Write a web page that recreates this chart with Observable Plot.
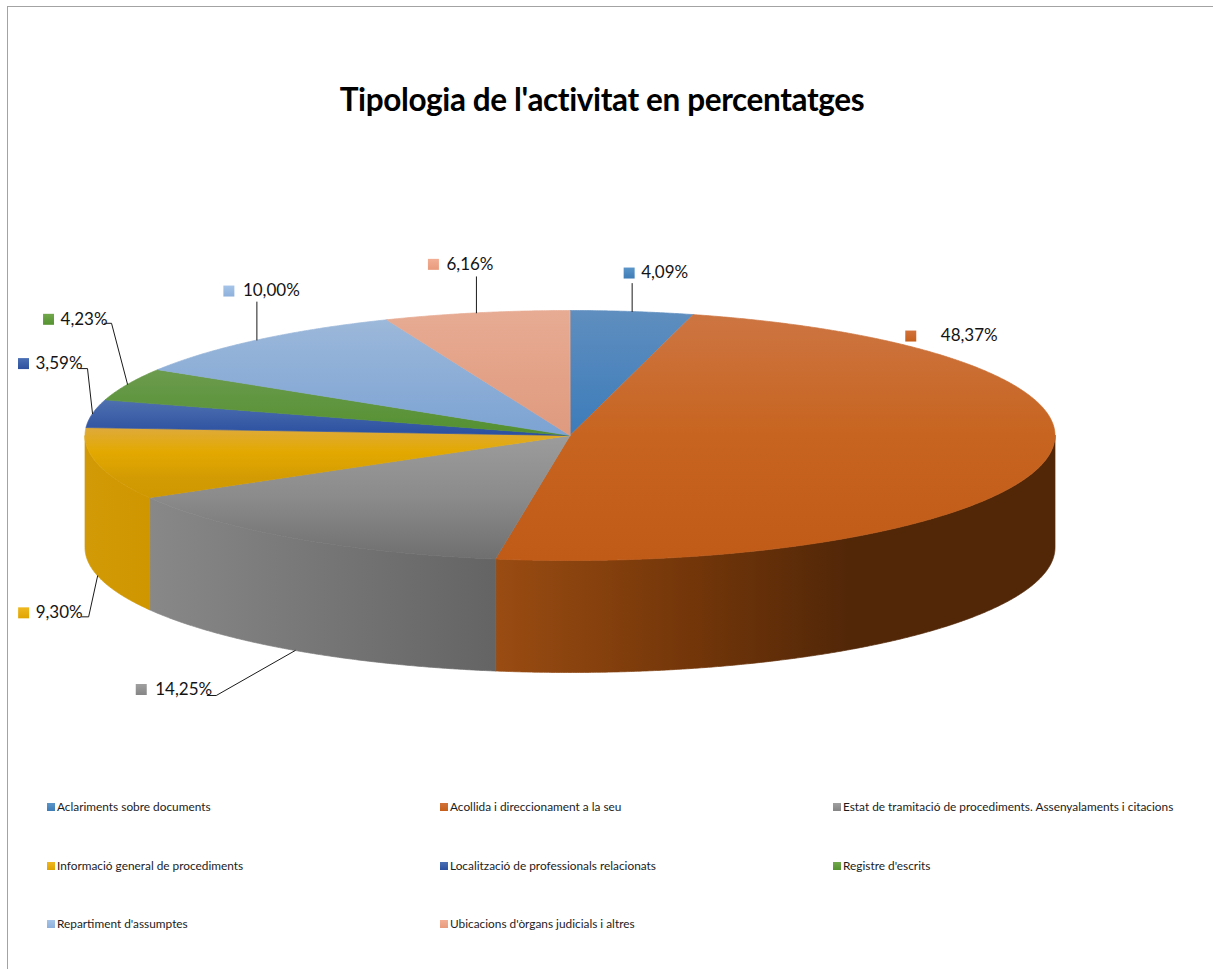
<!DOCTYPE html>
<html lang="ca">
<head>
<meta charset="utf-8">
<title>Tipologia de l'activitat en percentatges</title>
<script src="https://cdn.jsdelivr.net/npm/d3@7"></script>
<script src="https://cdn.jsdelivr.net/npm/@observablehq/plot@0.6"></script>
<style>
  html, body { margin: 0; padding: 0; background: #fff; }
  #frame { position: relative; width: 1213px; height: 969px; overflow: hidden; font-family: Lato, "Open Sans", sans-serif; color: #111; }
  #edge { position: absolute; left: 7px; top: 6px; right: -4px; bottom: -4px; border-left: 1px solid #a3a3a3; border-top: 1px solid #a3a3a3; pointer-events: none; }
  #title { height: 130px; box-sizing: border-box; padding-top: 78px; text-align: center; font-weight: 700; font-size: 31.5px; letter-spacing: -0.37px; line-height: 42px; margin-left: -9px; color: #000; }
  #chart svg { display: block; }
  #legend { position: relative; display: grid; grid-template-columns: 393px 393px 380px; grid-auto-rows: 58.5px; margin: 0 0 0 47px; padding-top: 28px; font-size: 11.85px; line-height: 18px; color: #1c1c1c; }
  .item { display: flex; align-items: center; height: 18px; white-space: nowrap; }
  .sw { width: 8px; height: 8px; margin-right: 2px; flex: none; }
</style>
</head>
<body>
<div id="frame">
  <div id="edge"></div>
  <div id="title">Tipologia de l'activitat en percentatges</div>
  <div id="chart"></div>
  <div id="legend"></div>
</div>
<script>
const categories = [
  "Aclariments sobre documents",
  "Acollida i direccionament a la seu",
  "Estat de tramitació de procediments. Assenyalaments i citacions",
  "Informació general de procediments",
  "Localització de professionals relacionats",
  "Registre d'escrits",
  "Repartiment d'assumptes",
  "Ubicacions d'òrgans judicials i altres"
];
const shares = [4.09, 48.37, 14.25, 9.30, 3.59, 4.23, 10.00, 6.16];

// Top-face gradients, top to bottom of each slice: [offset, colour]
const topShades = [
  [[0, "#5f8ebf"], [1, "#3c7cba"]],
  [[0, "#cd7542"], [0.5, "#c7641f"], [1, "#bf5a17"]],
  [[0, "#9c9c9c"], [0.5, "#8b8b8b"], [1, "#6f6f6f"]],
  [[0, "#deaa3c"], [0.35, "#e3a900"], [0.72, "#d39b03"], [1, "#cf9700"]],
  [[0, "#4f70b0"], [1, "#2a4f9f"]],
  [[0, "#6c9b4e"], [1, "#539030"]],
  [[0, "#9cb8da"], [1, "#7ca3d3"]],
  [[0, "#e7ab93"], [1, "#df9a7e"]]
];
// Small key squares: top to bottom
const keyShades = [
  ["#5b95c9", "#3f7cb6"],
  ["#d2723a", "#c65f1a"],
  ["#a0a0a0", "#858585"],
  ["#efb820", "#e0a400"],
  ["#4a6fb5", "#2c509e"],
  ["#72a84c", "#54922f"],
  ["#a6c4e8", "#8db0dc"],
  ["#f2ae94", "#e99b7c"]
];
// Side-wall gradients, left to right
const wallShades = {
  1: [[0, "#9a4c12"], [0.35, "#733609"], [0.63, "#522708"], [1, "#522708"]],
  2: [[0, "#888888"], [1, "#646464"]],
  3: [[0, "#d29a06"], [1, "#cf9600"]]
};

// Pie geometry
const rx = 485, ry = 125, wallDrop = 112;       // pixels
const plotHeight = 640, centerX = 569.5, centerY = 305;
const depth = wallDrop / ry;                     // in y-scale units

// Label layout: pixel offsets from each slice's rim anchor
const textOffset = [[9, -38.5], [-104, -237], [-140, 39], [-62, 37], [-57, -50], [-67, -65], [-14, -49], [-30, -48.5]];
const swatchGap = [12, 30, 14, 12, 12, 12, 14, 13];
const leaderElbows = [
  [[0, -28]],
  [],
  [[-79, 45], [-88, 45]],
  [[-9, 41], [-16, 41]],
  [[-5, -45], [-13, -45]],
  [[-16, -61], [-23, -61]],
  [[0, -38]],
  [[0, -36]]
];

const cum = d3.cumsum(shares);
const total = 100;
const angle = p => (p / total) * 2 * Math.PI;
const rim = (a, drop = 0) => ({ x: Math.sin(a), y: Math.cos(a) - drop });
const arc = (a0, a1, drop = 0) => {
  const n = Math.max(2, Math.ceil((a1 - a0) / 0.005));
  return d3.range(n + 1).map(k => rim(a0 + (a1 - a0) * k / n, drop));
};
const slices = shares.map((v, i) => {
  const start = i ? cum[i - 1] : 0, end = cum[i];
  return { i, a0: angle(start), a1: angle(end), mid: angle((start + end) / 2) };
});

const topFaces = slices.map(s => [{ x: 0, y: 0 }, ...arc(s.a0, s.a1)]);
const walls = slices.map(s => {
  const a0 = Math.max(s.a0, Math.PI / 2), a1 = Math.min(s.a1, 3 * Math.PI / 2);
  if (a1 <= a0) return null;
  return { i: s.i, pts: [...arc(a0, a1), ...arc(a0, a1, depth).reverse()] };
}).filter(Boolean);

// Rim anchor at the middle of each slice, dropped to wall foot on the front half
const anchors = slices.map(s => rim(s.mid, Math.cos(s.mid) < 0 ? depth : 0));
const offset = (p, [dx, dy]) => ({ x: p.x + dx / rx, y: p.y - dy / ry });

const labels = slices.map(s => {
  const pos = offset(anchors[s.i], textOffset[s.i]);
  return { ...pos, text: shares[s.i].toFixed(2).replace(".", ","), i: s.i };
});
const swatches = labels.map(l => ({ x: l.x - swatchGap[l.i] / rx, y: l.y, i: l.i }));
const leaders = slices
  .filter(s => leaderElbows[s.i].length)
  .map(s => [anchors[s.i], ...leaderElbows[s.i].map(o => offset(anchors[s.i], o))]);

const chart = Plot.plot({
  width: 1213,
  height: plotHeight,
  margin: 0,
  style: { background: "transparent", overflow: "visible" },
  x: { axis: null, domain: [-1, 1], range: [centerX - rx, centerX + rx] },
  y: { axis: null, domain: [-1, 1], range: [centerY + ry, centerY - ry] },
  marks: [
    ...walls.map(w => Plot.line(w.pts, { x: "x", y: "y", fill: `url(#wall${w.i})`, stroke: `url(#wall${w.i})`, strokeWidth: 0.7, curve: "linear-closed" })),
    ...topFaces.map((pts, i) => Plot.line(pts, { x: "x", y: "y", fill: `url(#top${i})`, stroke: `url(#top${i})`, strokeWidth: 0.7, curve: "linear-closed" })),
    ...leaders.map(pts => Plot.line(pts, { x: "x", y: "y", stroke: "#1a1a1a", strokeWidth: 1, curve: "linear" })),
    ...swatches.map(s => Plot.dot([s], { x: "x", y: "y", symbol: "square", r: 6.2, fill: `url(#key${s.i})`, stroke: "none" })),
    Plot.text(labels, { x: "x", y: "y", text: d => d.text + "%", textAnchor: "start", fontSize: 17, fontFamily: "Lato, 'Open Sans', sans-serif", fill: "#141414" })
  ]
});

// Gradient definitions for the faces
const NS = "http://www.w3.org/2000/svg";
const defs = document.createElementNS(NS, "defs");
const addGradient = (id, horizontal, stops) => {
  const g = document.createElementNS(NS, "linearGradient");
  g.setAttribute("id", id);
  g.setAttribute("x1", "0"); g.setAttribute("y1", "0");
  g.setAttribute("x2", horizontal ? "1" : "0"); g.setAttribute("y2", horizontal ? "0" : "1");
  stops.forEach(([o, c]) => {
    const s = document.createElementNS(NS, "stop");
    s.setAttribute("offset", o); s.setAttribute("stop-color", c);
    g.appendChild(s);
  });
  defs.appendChild(g);
};
topShades.forEach((st, i) => addGradient(`top${i}`, false, st));
keyShades.forEach((cs, i) => addGradient(`key${i}`, false, [[0, cs[0]], [1, cs[1]]]));
Object.entries(wallShades).forEach(([i, st]) => addGradient(`wall${i}`, true, st));
chart.insertBefore(defs, chart.firstChild);
document.getElementById("chart").appendChild(chart);

// Legend
const legend = d3.select("#legend");
categories.forEach((name, i) => {
  const item = legend.append("div").attr("class", "item");
  item.append("span").attr("class", "sw")
    .style("background", `linear-gradient(${keyShades[i][0]}, ${keyShades[i][1]})`);
  item.append("span").text(name);
});
</script>
</body>
</html>
